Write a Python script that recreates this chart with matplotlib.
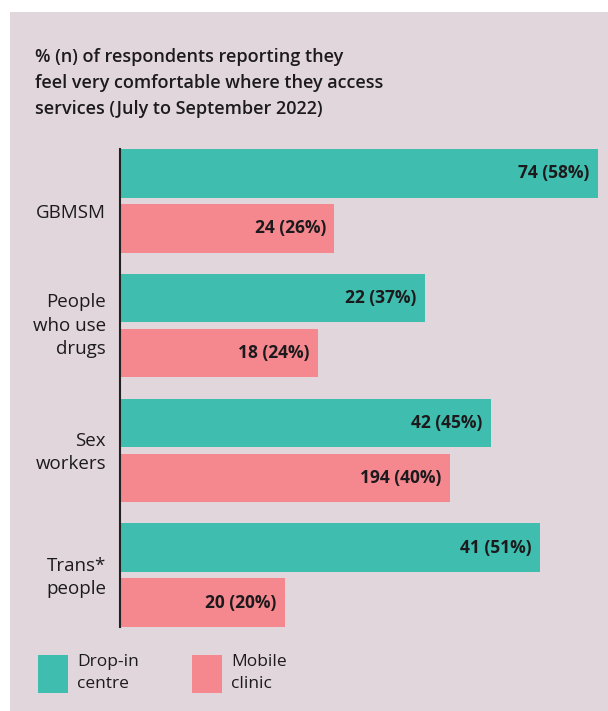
import matplotlib.pyplot as plt
import matplotlib.patches as mpatches
import matplotlib.transforms as mtransforms
import numpy as np

plt.rcParams['font.family'] = ['Open Sans', 'DejaVu Sans']

# Survey results, July to September 2022
groups = ['GBMSM', 'People\nwho use\ndrugs', 'Sex\nworkers', 'Trans*\npeople']
dropin_n = [74, 22, 42, 41]
dropin_pct = [58, 37, 45, 51]
mobile_n = [24, 18, 194, 20]
mobile_pct = [26, 24, 40, 20]

# small vertical nudges (pixels, downwards) for the group labels
label_nudge = [12, 0, 2, 2]

teal = '#3fbdae'
pink = '#f4888e'
panel = '#e0d6db'
ink = '#1c1a1c'

W, H = 608, 711
fig = plt.figure(figsize=(W / 100, H / 100), dpi=100)
fig.patch.set_facecolor('white')

# grey-pink card behind everything
card = mpatches.Rectangle((10 / W, 0), 1, 1 - 12 / H, transform=fig.transFigure,
                          facecolor=panel, edgecolor='none', zorder=-10)
fig.add_artist(card)

fig.text(35 / W, 1 - 83 / H,
         '% (n) of respondents reporting they\n'
         'feel very comfortable where they access\n'
         'services (July to September 2022)',
         fontsize=13, fontweight='semibold', color=ink,
         va='center', ha='left', linespacing=1.55)

ax = fig.add_axes([120 / W, (H - 627) / H, 488 / W, 478 / H])
ax.set_facecolor('none')

y = np.arange(len(groups))
off, h = 0.22, 0.39
ax.barh(y - off, dropin_pct, height=h, color=teal)
ax.barh(y + off, mobile_pct, height=h, color=pink)

for yi, n, p in zip(y - off, dropin_n, dropin_pct):
    ax.annotate(f'{n} ({p}%)', (p, yi), xytext=(-6, 0), textcoords='offset points',
                ha='right', va='center', fontsize=12.5, fontweight='bold', color=ink)
for yi, n, p in zip(y + off, mobile_n, mobile_pct):
    ax.annotate(f'{n} ({p}%)', (p, yi), xytext=(-6, 0), textcoords='offset points',
                ha='right', va='center', fontsize=12.5, fontweight='bold', color=ink)

ax.set_xlim(0, 58 * 488 / 478)
ax.set_ylim(3 + off + h / 2, -off - h / 2)
ax.set_yticks([])
ax.set_xticks([])

# group labels to the left of the axis line
base = mtransforms.blended_transform_factory(ax.transAxes, ax.transData)
for yi, name, dy in zip(y, groups, label_nudge):
    tr = base + mtransforms.ScaledTranslation(-14 / 100, -dy / 100, fig.dpi_scale_trans)
    ax.text(0, yi, name, transform=tr, ha='right', va='center', multialignment='right',
            fontsize=13.5, color=ink, linespacing=1.38)

for s in ['top', 'right', 'bottom']:
    ax.spines[s].set_visible(False)
ax.spines['left'].set_color('#222222')
ax.spines['left'].set_linewidth(1.5)

# legend swatches
for x0, col, label in [(38, teal, 'Drop-in\ncentre'), (192, pink, 'Mobile\nclinic')]:
    fig.add_artist(mpatches.Rectangle((x0 / W, (H - 693) / H), 30 / W, 38 / H,
                                      transform=fig.transFigure,
                                      facecolor=col, edgecolor='none'))
    fig.text((x0 + 39) / W, (H - 673) / H, label, fontsize=12.5, color=ink,
             ha='left', va='center', linespacing=1.45)

fig.savefig('out.png', dpi=100, facecolor='white')
